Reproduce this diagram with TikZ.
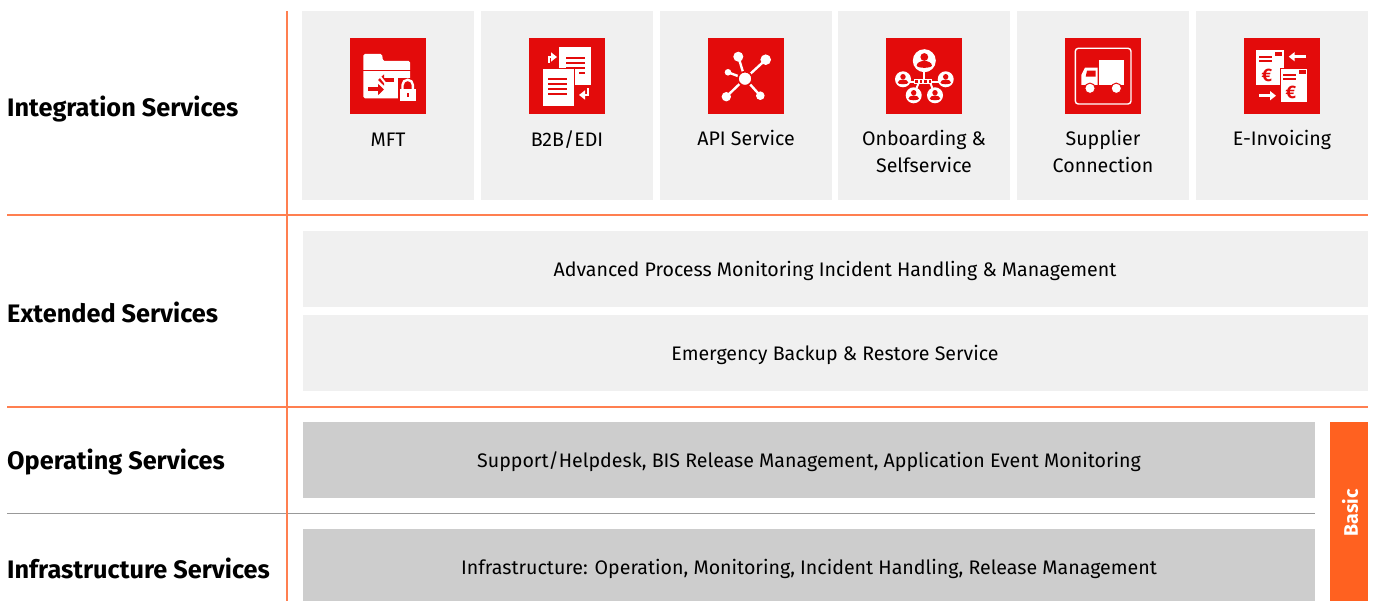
\documentclass[tikz,border=0pt]{standalone}
\usepackage{fontspec}
\setmainfont{Fira Sans}
\usetikzlibrary{arrows.meta}
\definecolor{tilered}{HTML}{E30B0B}
\definecolor{lineorange}{HTML}{FF7F50}
\definecolor{basicorange}{HTML}{FF6120}
\definecolor{tilegray}{HTML}{F0F0F0}
\definecolor{bargray}{HTML}{CDCDCD}
\begin{document}
\begin{tikzpicture}[x=1pt,y=-1pt]
    \tikzstyle{tile}=[fill=tilegray,minimum width=172pt,minimum height=189pt,inner sep=0pt]
    \tikzstyle{wide}=[fill=tilegray,minimum width=1065pt,minimum height=76pt,inner sep=0pt]
    \tikzstyle{base}=[fill=bargray,minimum width=1012pt,inner sep=0pt]
    \tikzstyle{icon}=[fill=tilered,minimum width=76pt,minimum height=76pt,inner sep=0pt]
    \tikzstyle{bl}=[inner sep=0pt,font=\fontsize{19.6}{24}\selectfont]
    \tikzstyle{tl}=[align=center,font=\fontsize{19.6}{27}\selectfont,anchor=north]
    \tikzstyle{head}=[anchor=west,inner sep=0pt,font=\fontsize{25.3}{30}\selectfont\bfseries]
    \tikzstyle{sep}=[lineorange,line width=2pt]
    \tikzstyle{wl}=[white,line width=2pt]
    \tikzstyle{rl}=[tilered,line width=1.7pt]
    \tikzstyle{wa}=[white,line width=2.6pt,-{Triangle[length=6pt,width=9pt]}]
    \tikzstyle{ra}=[tilered,line width=4pt,-{Triangle[length=6pt,width=11pt]}]
    \newcommand\person[3]{\fill[white] (#1,#2) circle (#3);
      \fill[tilered] (#1,#2-.32*#3) circle (.34*#3);
      \fill[tilered] (#1-.66*#3,#2+.42*#3) arc (180:360:.66*#3 and .4*#3) arc (0:180:.66*#3 and .2*#3);}
    \useasboundingbox (0,0) rectangle (1375,601);
    % colonne de tuiles
    \node[tile] at (388,105.5) (mft) {};
    \node[tile] at (567,105.5) (b2b) {};
    \node[tile] at (746,105.5) (api) {};
    \node[tile] at (924,105.5) (onb) {};
    \node[tile] at (1103,105.5) (sup) {};
    \node[tile] at (1282,105.5) (inv) {};
    \node[icon] at (388,76) (imft) {};
    \node[icon] at (567,76) (ib2b) {};
    \node[icon] at (746,76) (iapi) {};
    \node[icon] at (924,76) (ionb) {};
    \node[icon] at (1103,76) (isup) {};
    \node[icon] at (1282,76) (iinv) {};
    \node[tl] at (388,129) (tmft) {MFT};
    \node[tl] at (567,127) (tb2b) {B2B/EDI};
    \node[tl] at (746,127) (tapi) {API Service};
    \node[tl] at (924,127) (tonb) {Onboarding \&\\Selfservice};
    \node[tl] at (1103,127) (tsup) {Supplier\\Connection};
    \node[tl] at (1282,127) (tinv) {E-Invoicing};
    % barres
    \node[wide] at (835.5,269) (apm) {};
    \node[bl] at (835,271) (tapm) {Advanced Process Monitoring Incident Handling \& Management};
    \node[wide] at (835.5,353) (ebr) {};
    \node[bl] at (835,355) (tebr) {Emergency Backup \& Restore Service};
    \node[base,minimum height=76pt] at (809,460) (ops) {};
    \node[bl] at (809,462) (tops) {Support/Helpdesk, BIS Release Management, Application Event Monitoring};
    \node[base,minimum height=72pt] at (809,565) (inf) {};
    \node[bl] at (809,569) (tinf) {Infrastructure: Operation, Monitoring, Incident Handling, Release Management};
    \node[fill=basicorange,minimum width=38pt,minimum height=179pt,inner sep=0pt] at (1349,511.5) (bas) {};
    \node[rotate=90,white,font=\fontsize{19.6}{24}\selectfont\bfseries] at (1350,513) (tbas) {Basic};
    % titres
    \node[head] at (7,109) (h1) {Integration Services};
    \node[head] at (7,312) (h2) {Extended Services};
    \node[head] at (7,462) (h3) {Operating Services};
    \node[head] at (7,568) (h4) {Infrastructure Services};
    % lignes
    \coordinate (a1) at (7,215.5); \coordinate (b1) at (1368,215.5);
    \coordinate (a2) at (7,406.5); \coordinate (b2) at (1368,406.5);
    \coordinate (a3) at (7,513.5); \coordinate (b3) at (1315,513.5);
    \coordinate (v1) at (286.5,11); \coordinate (v2) at (286.5,601);
    \draw[sep] (a1) -- (b1);
    \draw[sep] (a2) -- (b2);
    \draw[gray!80,line width=1.3pt] (a3) -- (b3);
    \draw[sep] (v1) -- (v2);
    % icone mft
    \begin{scope}[shift={(350,38)}]
      \fill[white,rounded corners=1.5pt] (13.3,60.3) -- (13.3,16) -- (32,16) -- (33,23) -- (60,23) -- (60,60.3) -- cycle;
      \draw[rl] (13,32.5) -- (60.5,32.5);
      \draw[ra] (44,42) -- (28,42);
      \draw[ra] (18,51.5) -- (34,51.5);
      \draw[wl] (28,36) -- (36,46);
      \fill[tilered] (47.5,40) rectangle (68,65);
      \draw[white,line width=2.4pt] (52.5,52) -- (52.5,47) arc (180:360:5.2) -- (62.9,52);
      \fill[white] (49.8,51.5) rectangle (65.5,63);
      \fill[tilered] (56.7,55) rectangle (58.7,59);
    \end{scope}
    % icone b2b
    \begin{scope}[shift={(529,38)}]
      \fill[white] (30.3,8.7) rectangle (62.3,47);
      \foreach \y in {20,25,30} \draw[rl] (37,\y) -- (56,\y);
      \draw[rl] (50,35) -- (56,35);
      \fill[white,draw=tilered,line width=.8pt] (13.3,30.7) rectangle (45,68.7);
      \foreach \y in {41.3,46.3,51.3,56} \draw[rl] (19.3,\y) -- (38.3,\y);
      \draw[wa] (20,25) -- (20,19) -- (28,19);
      \draw[wa] (59,50.3) -- (59,57) -- (50,57);
    \end{scope}
    % icone api
    \begin{scope}[shift={(708,38)}]
      \foreach \x/\y/\r in {30.3/18.7/5,57.7/21.7/5.3,20/34.3/3.3,18.3/58.7/4.7,52.3/57.7/4.3}{
        \draw[white,line width=2.4pt] (37,40.7) -- (\x,\y);
        \fill[white] (\x,\y) circle (\r);}
      \fill[white,draw=tilered,line width=1.6pt] (37,40.7) circle (7);
    \end{scope}
    % icone onboarding
    \begin{scope}[shift={(886,38)}]
      \draw[wl] (38.3,30) -- (38.3,44);
      \draw[wl] (17,43.7) -- (59.7,43.7);
      \draw[wl] (33,44) -- (27.7,57.3);
      \draw[wl] (44,44) -- (49,57.3);
      \foreach \x in {30.5,35,39.5,44}{
        \draw[white,line width=.9pt,fill=tilered] (\x-1.8,41.8) rectangle (\x+1.8,45.6);}
      \person{38.3}{22.7}{11.5}
      \person{17}{41.3}{8}
      \person{59.7}{41.3}{8}
      \person{27.7}{57.3}{8}
      \person{49}{57.3}{8}
    \end{scope}
    % icone camion
    \begin{scope}[shift={(1065,38)}]
      \draw[white,line width=1.4pt,rounded corners=3pt] (10.3,10.3) rectangle (66,66);
      \fill[white] (34.3,22.3) rectangle (59,47);
      \fill[white] (16.3,47) -- (16.3,37) -- (20,29.7) -- (32.7,29.7) -- (32.7,47) -- cycle;
      \fill[tilered] (22,32.7) -- (30.7,32.7) -- (30.7,38.7) -- (20.7,38.7) -- cycle;
      \fill[white,draw=tilered,line width=1pt] (25,50.3) circle (5.2);
      \fill[white,draw=tilered,line width=1pt] (51.3,50.3) circle (5.2);
    \end{scope}
    % icone e-invoicing
    \begin{scope}[shift={(1244,38)}]
      \fill[white] (12,12) rectangle (40,47);
      \foreach \y in {18.7,22.7} \draw[rl] (15,\y) -- (27.7,\y);
      \fill[tilered] (31.3,14.3) rectangle (38,18);
      \node[tilered,inner sep=0pt,font=\fontsize{18}{18}\selectfont\bfseries] at (23,37) (e1) {€};
      \fill[white,draw=tilered,line width=.8pt] (36,30.3) rectangle (63.7,64.7);
      \foreach \y in {37,41} \draw[rl] (39,\y) -- (51.7,\y);
      \fill[tilered] (55,32.3) rectangle (61.7,36);
      \node[tilered,inner sep=0pt,font=\fontsize{18}{18}\selectfont\bfseries] at (47,54.3) (e2) {€};
      \draw[wa] (61.7,18.7) -- (44.7,18.7);
      \draw[wa] (15,57.7) -- (32,57.7);
    \end{scope}
\end{tikzpicture}
\end{document}
